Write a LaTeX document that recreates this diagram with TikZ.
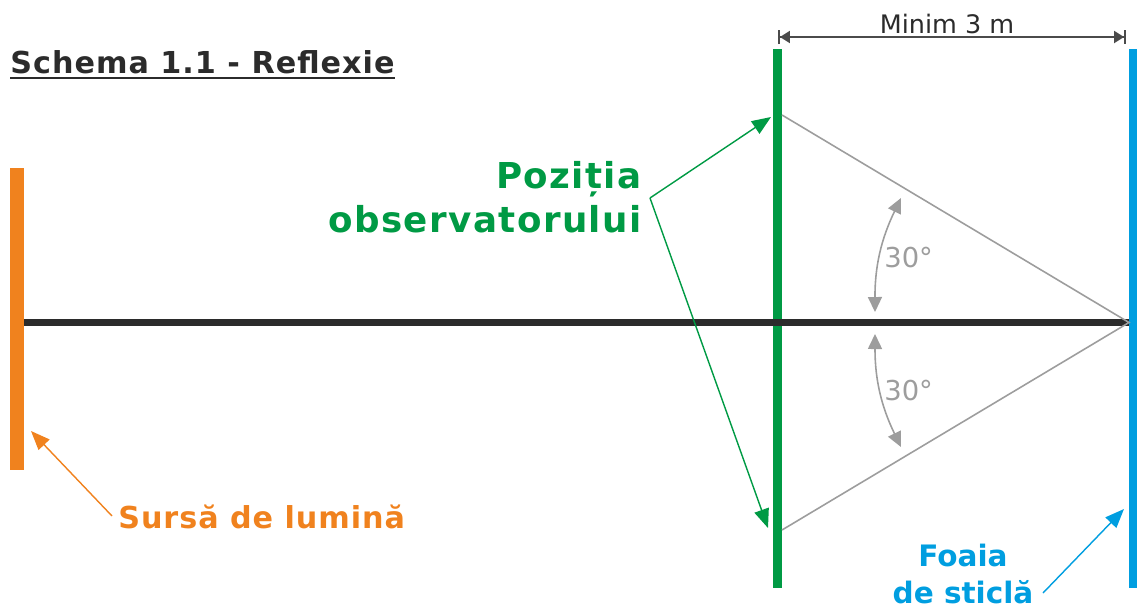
\documentclass[tikz,border=0pt]{standalone}
\usepackage{fontspec}
\setmainfont{DejaVu Sans}
\usepackage{xcolor}
\usetikzlibrary{arrows.meta}
\definecolor{obsgreen}{RGB}{0,154,68}
\definecolor{srcorange}{RGB}{240,130,30}
\definecolor{glassblue}{RGB}{0,158,224}
\definecolor{darktxt}{RGB}{43,43,43}
\definecolor{raygray}{RGB}{157,157,157}

\begin{document}
\begin{tikzpicture}[
  x=0.02cm, y=-0.02cm,
  lbl/.style={inner sep=0pt},
  tip/.style={-{Triangle[length=3.8mm, width=3mm]}, line width=0.8pt},
  ray/.style={raygray, line width=0.9pt},
  angarr/.style={{Triangle[length=3mm, width=2.8mm]}-{Triangle[length=3mm, width=2.8mm]},
                 raygray, line width=0.9pt},
  dimarr/.style={{Bar[width=2.8mm]Triangle[length=2mm, width=2.4mm]}-{Triangle[length=2mm, width=2.4mm]Bar[width=2.8mm]},
                 darktxt!85, line width=1.1pt}]
  \useasboundingbox (0,0) rectangle (1137,609);

  % title
  \node[lbl, anchor=base west, text=darktxt,
        font=\bfseries\fontsize{17.2}{20}\selectfont\addfontfeature{LetterSpace=3.3}]
       (title) at (10,73) {Schema 1.1 - Reflexie};
  \draw[darktxt, line width=1.2pt] ([yshift=-2.8pt]title.base west) -- ([yshift=-2.8pt]title.base east);

  % source, observer and glass
  \fill[srcorange] (10,168) rectangle (24,470);
  \fill[obsgreen]  (773,49) rectangle (782,588);
  \fill[glassblue] (1129,49) rectangle (1137,588);
  \coordinate (axisl) at (24,322.5);
  \coordinate (axisr) at (1129,322.5);
  \draw[darktxt, line width=4pt] (axisl) -- (axisr);

  % rays to the glass
  \coordinate (eyetop) at (782,115);
  \coordinate (eyebot) at (782,530);
  \draw[ray] (eyetop) -- (axisr) -- (eyebot);

  % angles
  \coordinate (a1) at (875,312);
  \coordinate (a2) at (901,198);
  \coordinate (a3) at (875,334);
  \coordinate (a4) at (901,447);
  \draw[angarr] (a1) to[bend left=13] (a2);
  \draw[angarr] (a3) to[bend right=13] (a4);
  \node[lbl, anchor=base west, text=raygray, font=\fontsize{15.6}{18}\selectfont]
       (ang1) at (884,267) {30°};
  \node[lbl, anchor=base west, text=raygray, font=\fontsize{15.6}{18}\selectfont]
       (ang2) at (884,400) {30°};

  % distance
  \coordinate (diml) at (778,37);
  \coordinate (dimr) at (1126,37);
  \draw[dimarr] (diml) -- (dimr);
  \node[lbl, anchor=base, text=darktxt, font=\fontsize{14.5}{16}\selectfont]
       (dist) at (947,33) {Minim 3 m};

  % labels
  \node[lbl, anchor=base east, align=right, text=obsgreen,
        font=\bfseries\fontsize{20.3}{24.5}\selectfont\addfontfeature{LetterSpace=4}]
       (obs) at (642,232) {Poziția\\observatorului};
  \coordinate (obsfrom) at (650,198);
  \coordinate (obsup) at (771,117);
  \coordinate (obsdown) at (768,528);
  \draw[tip, obsgreen] (obsfrom) -- (obsup);
  \draw[tip, obsgreen] (obsfrom) -- (obsdown);

  \node[lbl, anchor=base west, text=srcorange,
        font=\bfseries\fontsize{17.2}{20}\selectfont\addfontfeature{LetterSpace=3.1}]
       (src) at (118,528) {Sursă de lumină};
  \coordinate (srcfrom) at (112,516);
  \coordinate (srcto) at (31,431);
  \draw[tip, srcorange] (srcfrom) -- (srcto);

  \node[lbl, anchor=base, align=center, text=glassblue, font=\bfseries\fontsize{16.8}{20.5}\selectfont]
       (glass) at (963,603) {Foaia\\de sticlă};
  \coordinate (glassfrom) at (1043,593);
  \coordinate (glassto) at (1124,509);
  \draw[tip, glassblue] (glassfrom) -- (glassto);
\end{tikzpicture}
\end{document}
